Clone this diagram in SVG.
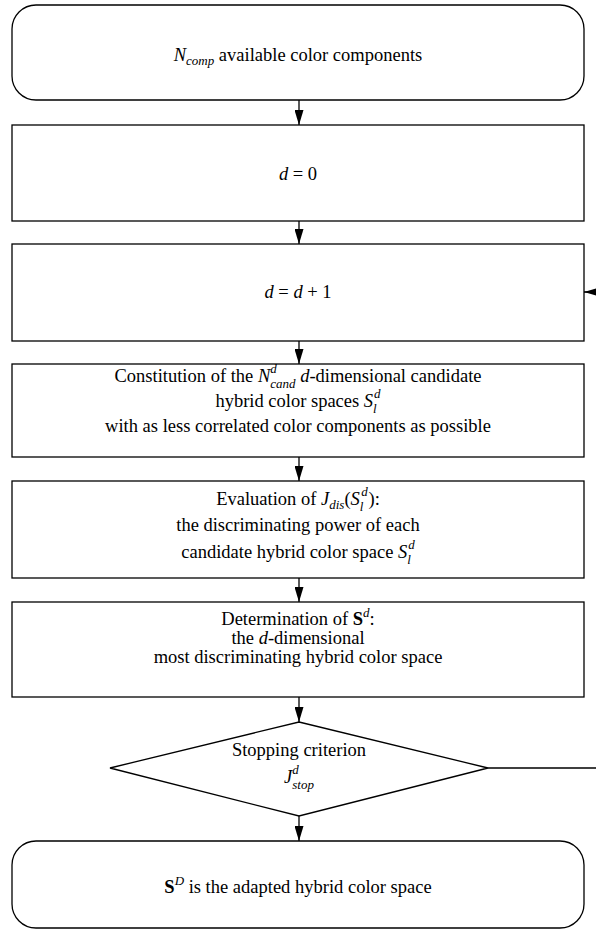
<svg xmlns="http://www.w3.org/2000/svg" width="596" height="930" viewBox="0 0 596 930">
<defs>
<marker id="ah" markerUnits="userSpaceOnUse" markerWidth="16" markerHeight="9" refX="15" refY="4.5" orient="auto"><path d="M0,0 L15,4.5 L0,9 z" fill="#000"/></marker>
<style>
.box{fill:#fff;stroke:#000;stroke-width:1.3}
.t{font-family:"Liberation Serif","Times New Roman",serif;font-size:18.5px;fill:#000;text-anchor:middle}
.i{font-style:italic}
.s{font-size:13px}
.b{font-weight:bold}
.c{fill:none;stroke:#000;stroke-width:1.3;marker-end:url(#ah)}
</style>
</defs>
<rect width="596" height="930" fill="#fff"/>
<g id="connectors">
<path class="c" d="M299,100 V125"/>
<path class="c" d="M299,221 V244"/>
<path class="c" d="M299,341 V364"/>
<path class="c" d="M299,457 V481"/>
<path class="c" d="M299,578 V602"/>
<path class="c" d="M299,697 V722"/>
<path class="c" d="M299,816 V841"/>
<path class="c" d="M488,768 H602 V292 H584"/>
</g>
<g id="start">
<rect class="box" x="12" y="5" width="572" height="95" rx="24"/>
<text class="t" x="298" y="61"><tspan class="i">N</tspan><tspan class="i s" dy="4">comp</tspan><tspan dy="-4"> available color components</tspan></text>
</g>
<g id="init">
<rect class="box" x="12" y="125" width="572" height="96"/>
<text class="t" x="298" y="180"><tspan class="i">d</tspan> = 0</text>
</g>
<g id="increment">
<rect class="box" x="12" y="244" width="572" height="97"/>
<text class="t" x="298" y="298"><tspan class="i">d</tspan> = <tspan class="i">d</tspan> + 1</text>
</g>
<g id="constitution">
<rect class="box" x="12" y="364" width="572" height="93"/>
<text class="t" x="298" y="382">Constitution of the <tspan class="i">N</tspan><tspan class="i s" dy="-9.5">d</tspan><tspan class="i s" dx="-6.5" dy="15">cand</tspan><tspan dy="-5.5"> </tspan><tspan class="i">d</tspan>-dimensional candidate</text>
<text class="t" x="298" y="407">hybrid color spaces <tspan class="i">S</tspan><tspan class="i s" dx="1" dy="-9.5">d</tspan><tspan class="i s" dx="-7.5" dy="15">l</tspan></text>
<text class="t" x="298" y="432">with as less correlated color components as possible</text>
</g>
<g id="evaluation">
<rect class="box" x="12" y="481" width="572" height="97"/>
<text class="t" x="298" y="505">Evaluation of <tspan class="i">J</tspan><tspan class="i s" dy="4">dis</tspan><tspan dy="-4">(</tspan><tspan class="i">S</tspan><tspan class="i s" dx="1.5" dy="-9.5">d</tspan><tspan class="i s" dx="-8" dy="15">l</tspan><tspan dx="5" dy="-5.5">):</tspan></text>
<text class="t" x="298" y="531">the discriminating power of each</text>
<text class="t" x="298" y="558">candidate hybrid color space <tspan class="i">S</tspan><tspan class="i s" dx="1" dy="-9.5">d</tspan><tspan class="i s" dx="-7.5" dy="15">l</tspan></text>
</g>
<g id="determination">
<rect class="box" x="12" y="602" width="572" height="95"/>
<text class="t" x="298" y="625">Determination of <tspan class="b">S</tspan><tspan class="i s" dy="-8">d</tspan><tspan dy="8">:</tspan></text>
<text class="t" x="298" y="644">the <tspan class="i">d</tspan>-dimensional</text>
<text class="t" x="298" y="663">most discriminating hybrid color space</text>
</g>
<g id="stopping">
<polygon class="box" points="299,722 488,768 299,816 110,768"/>
<text class="t" x="299" y="756">Stopping criterion</text>
<text class="t" x="299" y="783"><tspan class="i">J</tspan><tspan class="i s" dy="-9.5">d</tspan><tspan class="i s" dx="-6.5" dy="15">stop</tspan></text>
</g>
<g id="end">
<rect class="box" x="12" y="841" width="572" height="87" rx="24"/>
<text class="t" x="298" y="893"><tspan class="b">S</tspan><tspan class="i s" dy="-8">D</tspan><tspan dy="8"> is the adapted hybrid color space</tspan></text>
</g>
</svg>
